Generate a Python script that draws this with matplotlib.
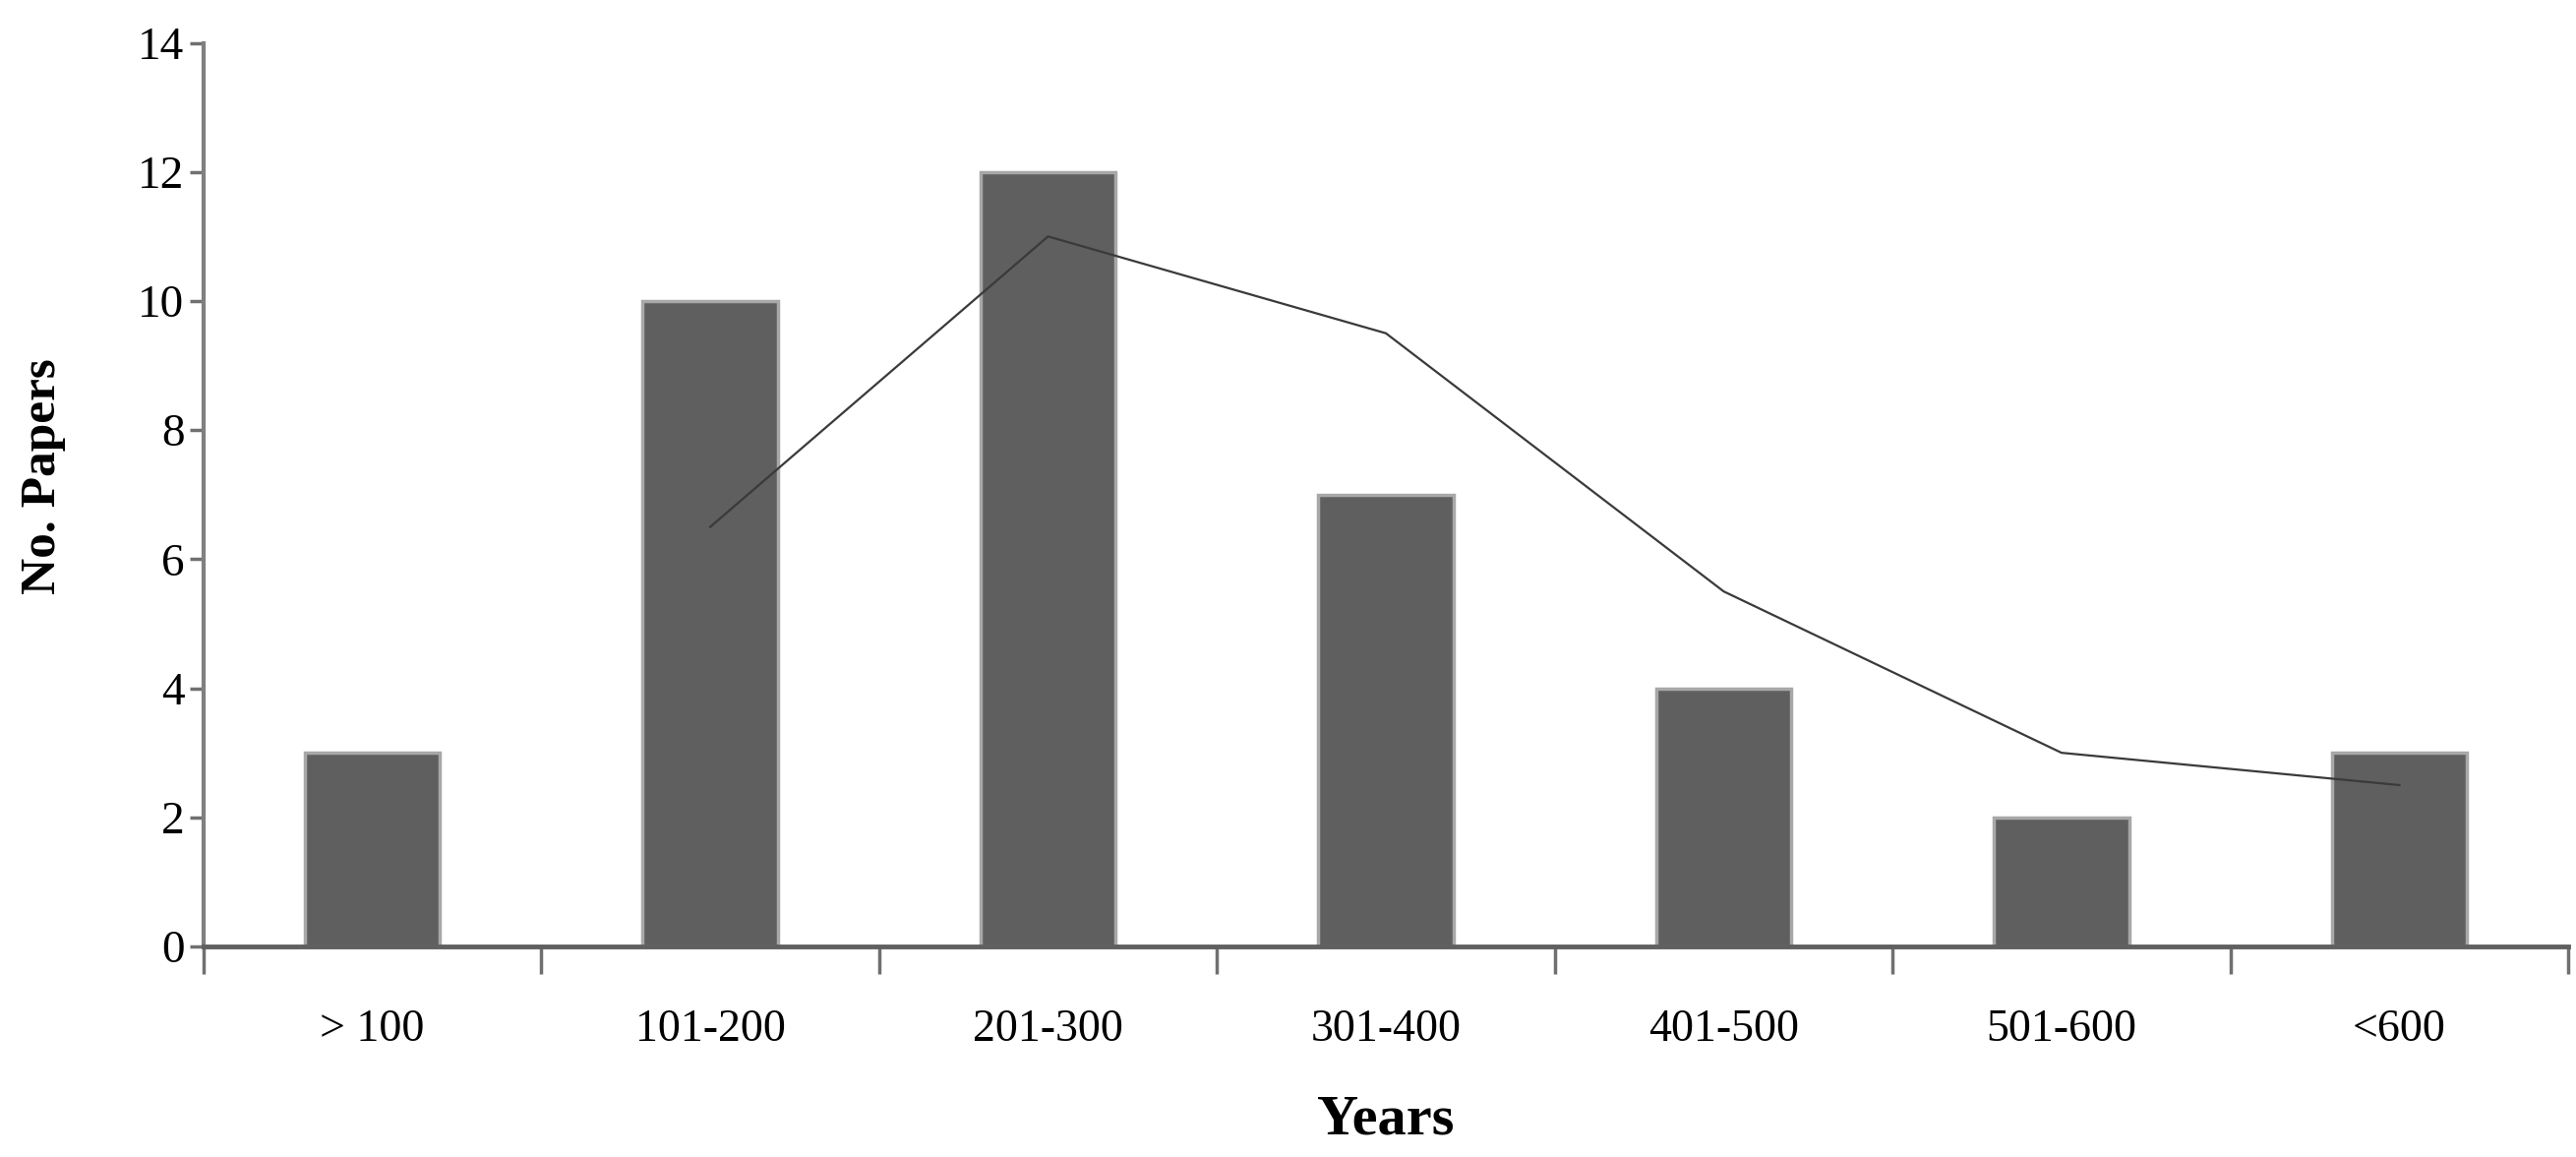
import matplotlib
matplotlib.use("Agg")
import matplotlib.pyplot as plt
import numpy as np

categories = ["> 100", "101-200", "201-300", "301-400", "401-500", "501-600", "<600"]
papers = [3, 10, 12, 7, 4, 2, 3]
trend_idx = [1, 2, 3, 4, 5, 6]
trend_vals = [6.5, 11, 9.5, 5.5, 3, 2.5]
yticks = [0, 2, 4, 6, 8, 10, 12, 14]

plt.rcParams['font.family'] = ['Liberation Serif', 'DejaVu Serif']

fig = plt.figure(figsize=(26.19, 11.76), dpi=100)
ax = fig.add_axes([0.079, 0.182, 0.918, 0.781])

x = np.arange(len(categories))
ax.bar(x, papers, width=0.4, color='#5f5f5f', edgecolor='#a8a8a8', linewidth=2.5, zorder=2)
ax.plot(trend_idx, trend_vals, color='#3a3a3a', linewidth=1.6, zorder=3)

ax.set_xlim(-0.5, len(categories) - 0.5)
ax.set_ylim(0, 14)
ax.set_yticks(yticks)
ax.set_yticklabels([str(v) for v in yticks])

ax.set_xticks(np.arange(-0.5, len(categories), 1.0))
ax.set_xticklabels([])
ax.set_xticks(x, minor=True)
ax.set_xticklabels(categories, minor=True)

ax.tick_params(axis='x', which='major', length=20, width=2.5, color='#707070', direction='out')
ax.tick_params(axis='x', which='minor', length=0, labelsize=33, pad=46)
ax.tick_params(axis='y', which='major', length=10, width=2.5, color='#707070', labelsize=34, pad=4)

for s in ['top', 'right']:
    ax.spines[s].set_visible(False)
ax.spines['left'].set_color('#808080')
ax.spines['left'].set_linewidth(3)
ax.spines['bottom'].set_color('#606060')
ax.spines['bottom'].set_linewidth(3.5)

ax.set_xlabel('Years', fontsize=42, fontweight='bold', labelpad=32)
ax.set_ylabel('No. Papers', fontsize=37, fontweight='bold')
ax.yaxis.set_label_coords(-0.058, 0.52)

fig.savefig('out.png', dpi=100, facecolor='white')
